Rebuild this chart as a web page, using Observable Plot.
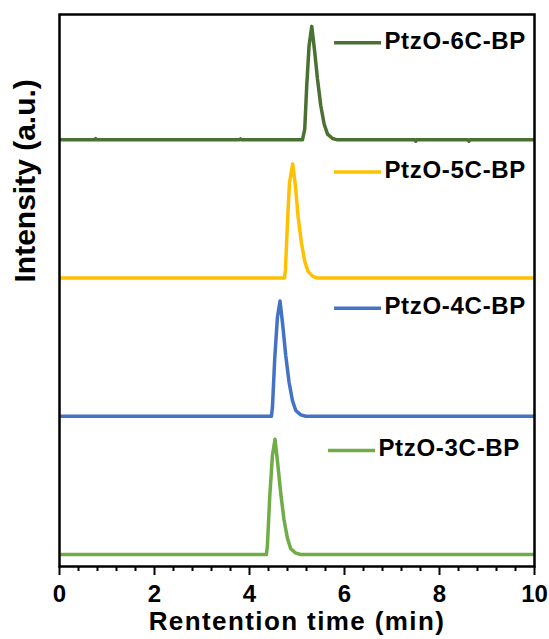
<!DOCTYPE html>
<html>
<head>
<meta charset="utf-8">
<script src="https://cdn.jsdelivr.net/npm/d3@7"></script>
<script src="https://cdn.jsdelivr.net/npm/@observablehq/plot@0.6"></script>
<style>
  html, body { margin: 0; padding: 0; background: #fff; }
  #chart svg { font-family: "Liberation Sans", Arial, sans-serif; }
  #chart g[aria-label="x-axis tick"] path { stroke-width: 2; }
  #chart g[aria-label="x-axis tick label"] text { font-size: 24px; font-weight: bold; fill: #000; }
</style>
</head>
<body>
<div id="chart"></div>
<script>
// ---- data ----
const seriesNames = ["PtzO-3C-BP", "PtzO-4C-BP", "PtzO-5C-BP", "PtzO-6C-BP"];
const seriesColors = ["#70ad47", "#4472c4", "#ffc000", "#4a7132"];
const seriesOffsets = [0, 1.2, 2.4, 3.6];

// retention time (min) and normalised intensity for each trace
const time3C = [0, 4.356, 4.377, 4.426, 4.483, 4.537, 4.594, 4.658, 4.727, 4.799, 4.868, 4.974, 5.079, 10];
const int3C  = [0, 0, 0.078, 0.50, 0.86, 1.0, 0.79, 0.53, 0.30, 0.14, 0.05, 0.012, 0, 0];

const time4C = [0, 4.462, 4.483, 4.531, 4.588, 4.643, 4.700, 4.763, 4.833, 4.904, 4.974, 5.079, 5.184, 10];
const int4C  = [0, 0, 0.078, 0.50, 0.86, 1.0, 0.79, 0.528, 0.296, 0.137, 0.05, 0.012, 0, 0];

const time5C = [0, 4.736, 4.757, 4.799, 4.841, 4.910, 4.967, 5.022, 5.094, 5.163, 5.233, 5.332, 5.437, 10];
const int5C  = [0, 0, 0.073, 0.478, 0.826, 0.99, 0.80, 0.537, 0.304, 0.145, 0.058, 0.015, 0, 0];

const time6C = [0, 0.74, 0.76, 0.78, 3.79, 3.81, 3.83, 5.115, 5.163, 5.205, 5.254, 5.311, 5.374, 5.431, 5.501, 5.571, 5.643, 5.748, 5.852, 7.48, 7.50, 7.52, 8.60, 8.62, 8.64, 10];
const int6C  = [0, 0, 0.01, 0, 0, 0.008, 0, 0, 0.093, 0.47, 0.817, 0.985, 0.76, 0.528, 0.296, 0.137, 0.05, 0.012, 0, 0, -0.012, 0, 0, -0.012, 0, 0];

const majorTicks = [0, 2, 4, 6, 8, 10];
const minorTicks = [0.4, 0.8, 1.2, 1.6, 2.4, 2.8, 3.2, 3.6, 4.4, 4.8, 5.2, 5.6, 6.4, 6.8, 7.2, 7.6, 8.4, 8.8, 9.2, 9.6];
const xLabel = "Rentention time (min)";
const yLabel = "Intensity (a.u.)";

// ---- build table ----
const traces = [[time3C, int3C], [time4C, int4C], [time5C, int5C], [time6C, int6C]];
const points = [];
traces.forEach(([t, v], i) => {
  t.forEach((x, j) => points.push({series: seriesNames[i], x, y: v[j] + seriesOffsets[i]}));
});
// legend layout (pixel nudges), not data
const legendDy = [-2, 2, 0, -9];
const legendDx = [-6, 0, 0, 0];
const legendRows = seriesNames.map((name, i) => ({name, color: seriesColors[i], level: seriesOffsets[i], dy: legendDy[i], dx: legendDx[i]}));

const chart = Plot.plot({
  width: 549,
  height: 639,
  marginLeft: 59,
  marginRight: 15,
  marginTop: 14,
  marginBottom: 73,
  x: {domain: [0, 10]},
  y: {domain: [-0.104, 4.688], axis: null},
  marks: [
    Plot.line(points, {x: "x", y: "y", z: "series", stroke: (d) => seriesColors[seriesNames.indexOf(d.series)], strokeWidth: 3.5, strokeLinejoin: "round", strokeLinecap: "butt"}),
    ...legendRows.map((d) => Plot.link([d], {
      x1: 5.78, x2: 6.77, y1: (r) => r.level + 0.92, y2: (r) => r.level + 0.92,
      stroke: d.color, strokeWidth: 3.5, dx: d.dx, dy: -d.dy
    })),
    ...legendRows.map((d) => Plot.text([d], {
      x: 6.84, y: (r) => r.level + 0.92, text: "name", textAnchor: "start",
      fontSize: 24, fontWeight: "bold", fill: "#000", dx: d.dx, dy: -d.dy - 2
    })),
    Plot.frame({stroke: "#000", strokeWidth: 2.5}),
    Plot.axisX(minorTicks, {tickSize: 5, tickFormat: () => "", stroke: "#000", label: null}),
    Plot.axisX(majorTicks, {tickSize: 9, tickPadding: 9, tickFormat: (d) => String(d), stroke: "#000", label: null}),
    Plot.text([xLabel], {frameAnchor: "bottom", dy: 63.5, text: (d) => d, fontSize: 26, fontWeight: "bold", fill: "#000"}),
    Plot.text([yLabel], {frameAnchor: "left", rotate: -90, dx: -34, dy: -8, text: (d) => d, fontSize: 30, fontWeight: "bold", fill: "#000"})
  ]
});
document.getElementById("chart").appendChild(chart);
// letter spacing for larger labels to match the reference width
chart.querySelectorAll('g[aria-label="text"] text').forEach((t) => {
  if (t.textContent === xLabel) t.setAttribute("letter-spacing", "1.4");
  if (seriesNames.includes(t.textContent)) t.setAttribute("letter-spacing", "0.7");
});
</script>
</body>
</html>
